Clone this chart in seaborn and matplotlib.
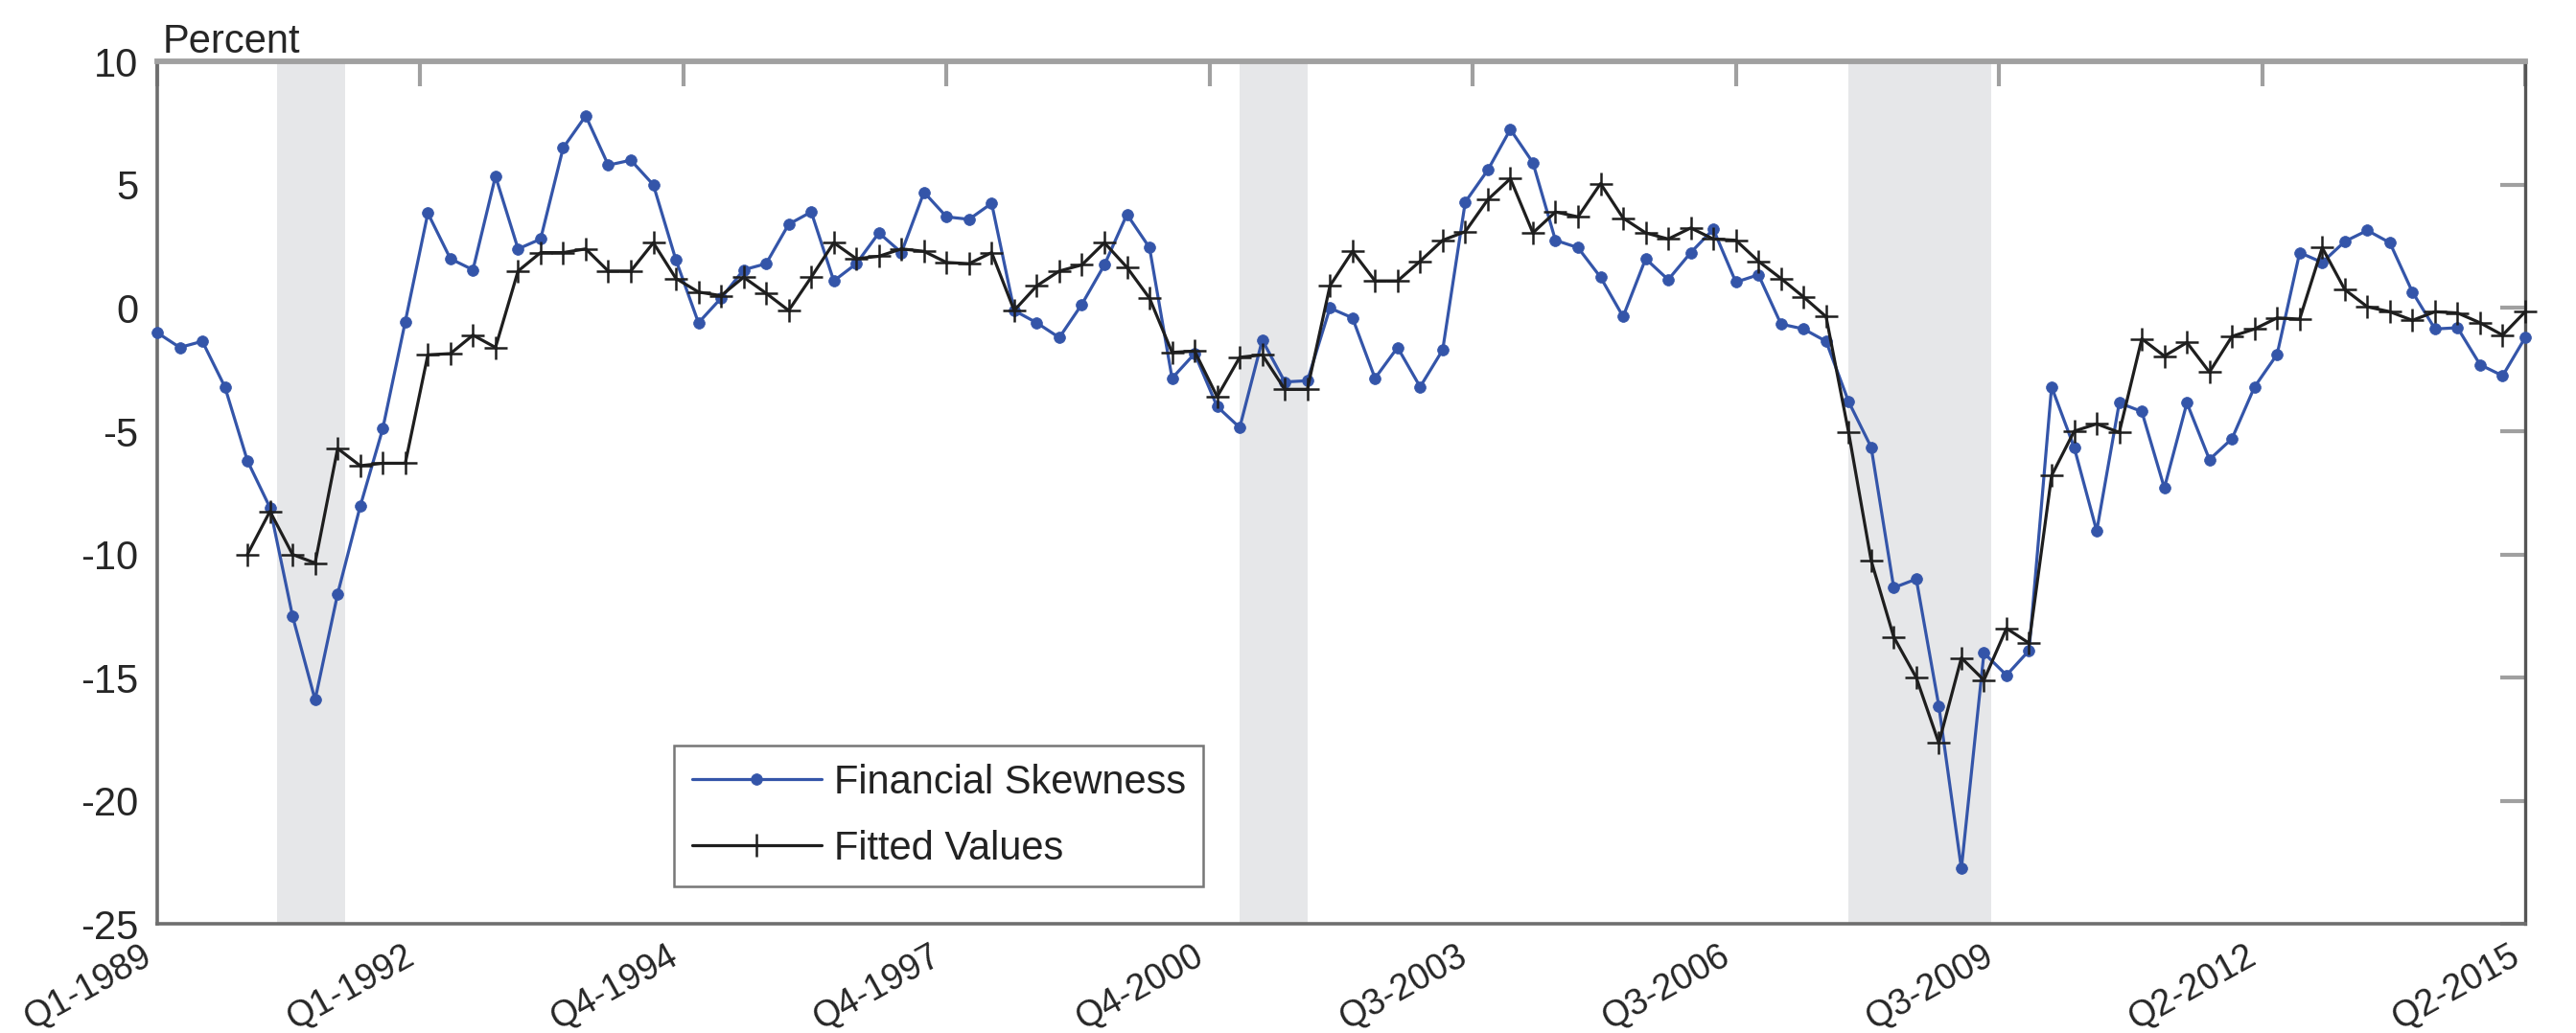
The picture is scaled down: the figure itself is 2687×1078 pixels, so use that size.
import numpy as np
import pandas as pd
import matplotlib
matplotlib.use("Agg")
import matplotlib.pyplot as plt
import seaborn as sns

# Quarterly sample: Q1-1989 through Q2-2015
quarters = [f"Q{p.quarter}-{p.year}" for p in pd.period_range("1989Q1", "2015Q2", freq="Q")]

financial_skewness = [
    -1.0, -1.6, -1.35, -3.2, -6.2, -8.1, -12.5, -15.9, -11.6, -8.05,
    -4.9, -0.55, 3.85, 2.0, 1.55, 5.35, 2.4, 2.8, 6.5, 7.8,
    5.8, 6.0, 5.0, 1.95, -0.6, 0.4, 1.55, 1.8, 3.4, 3.9,
    1.1, 1.8, 3.05, 2.25, 4.7, 3.7, 3.6, 4.25, -0.1, -0.6,
    -1.2, 0.15, 1.75, 3.8, 2.45, -2.85, -1.85, -4.0, -4.85, -1.3,
    -3.0, -2.95, 0.0, -0.4, -2.85, -1.6, -3.2, -1.7, 4.3, 5.6,
    7.25, 5.9, 2.75, 2.45, 1.25, -0.35, 2.0, 1.15, 2.25, 3.2,
    1.05, 1.35, -0.65, -0.85, -1.35, -3.8, -5.65, -11.35, -11.0, -16.15,
    -22.75, -14.0, -14.9, -13.9, -3.2, -5.65, -9.05, -3.85, -4.2, -7.3,
    -3.85, -6.15, -5.3, -3.2, -1.88, 2.25, 1.85, 2.7, 3.15, 2.65,
    0.65, -0.85, -0.8, -2.3, -2.75, -1.2,
]

fitted_values = [
    np.nan, np.nan, np.nan, np.nan, -10.0, -8.25, -10.0, -10.35, -5.7, -6.4,
    -6.3, -6.3, -1.9, -1.85, -1.1, -1.6, 1.5, 2.25, 2.25, 2.4,
    1.5, 1.5, 2.65, 1.2, 0.65, 0.5, 1.25, 0.6, -0.1, 1.25,
    2.65, 2.0, 2.1, 2.4, 2.3, 1.85, 1.8, 2.25, -0.1, 0.9,
    1.5, 1.75, 2.65, 1.65, 0.4, -1.8, -1.75, -3.6, -2.0, -1.9,
    -3.3, -3.3, 0.9, 2.3, 1.1, 1.1, 1.9, 2.75, 3.1, 4.4,
    5.25, 3.05, 3.9, 3.7, 5.05, 3.65, 3.05, 2.8, 3.25, 2.8,
    2.75, 1.9, 1.2, 0.45, -0.35, -5.05, -10.25, -13.35, -15.0, -17.65,
    -14.2, -15.1, -13.0, -13.6, -6.8, -5.0, -4.7, -5.05, -1.25, -1.95,
    -1.4, -2.6, -1.15, -0.85, -0.4, -0.45, 2.45, 0.75, 0.05, -0.15,
    -0.5, -0.15, -0.2, -0.6, -1.1, -0.15,
]

# Recession periods, in quarters since Q1-1989
recessions = [(5.33, 8.33), (48.0, 51.0), (75.0, 81.33)]

x_tick_labels = ["Q1-1989", "Q1-1992", "Q4-1994", "Q4-1997", "Q4-2000",
                 "Q3-2003", "Q3-2006", "Q3-2009", "Q2-2012", "Q2-2015"]
y_ticks = [-25, -20, -15, -10, -5, 0, 5, 10]
y_tick_labels = ["-25", "-20", "-15", "-10", "-5", "0", "5", "10"]

df = pd.DataFrame({
    "quarter": np.arange(len(quarters)),
    "label": quarters,
    "Financial Skewness": financial_skewness,
    "Fitted Values": fitted_values,
})

sns.set_style("white")
plt.rcParams["font.family"] = ["Liberation Sans", "DejaVu Sans"]
plt.rcParams["axes.unicode_minus"] = False

W, H = 2687, 1078
fig = plt.figure(figsize=(W / 100, H / 100), dpi=100)
ax = fig.add_axes([164 / W, 1 - 964.3 / H, 2470 / W, 900 / H])

BLUE = "#3455a9"
BLACK = "#1e1e1e"
FS = 30

for start, end in recessions:
    ax.axvspan(start, end, color="#e6e7e9", lw=0, zorder=0)

sns.lineplot(data=df, x="quarter", y="Financial Skewness", ax=ax,
             color=BLUE, lw=2.3, marker="o", markersize=8.5,
             markeredgecolor=BLUE, markeredgewidth=0.5,
             label="Financial Skewness", clip_on=False, zorder=3)
sns.lineplot(data=df, x="quarter", y="Fitted Values", ax=ax,
             color=BLACK, lw=2.3, marker="+", markersize=17,
             markeredgecolor=BLACK, markeredgewidth=1.8,
             label="Fitted Values", clip_on=False, zorder=4)

ax.set_xlim(0, len(quarters) - 1)
ax.set_ylim(-25, 10)
ax.set_xlabel("")
ax.set_ylabel("")

ax.set_xticks(np.linspace(0, len(quarters) - 1, len(x_tick_labels)))
ax.set_xticklabels(x_tick_labels, rotation=29, ha="right", va="top",
                   fontsize=27)
ax.set_yticks(y_ticks)
ax.set_yticklabels(y_tick_labels)

ax.tick_params(axis="both", direction="in", length=19, width=3,
               color="#a0a0a0", labelcolor="#262626",
               top=True, right=True)
ax.tick_params(axis="y", labelsize=FS, pad=14)
ax.tick_params(axis="x", pad=11)

for side in ["left", "bottom"]:
    ax.spines[side].set_color("#6e6e6e")
    ax.spines[side].set_linewidth(2.6)
ax.spines["right"].set_color("#555555")
ax.spines["right"].set_linewidth(2.4)
ax.spines["top"].set_color("#a0a0a0")
ax.spines["top"].set_linewidth(4.2)

leg = ax.legend(loc="upper left", bbox_to_anchor=(0.2182, 0.207),
                borderaxespad=0, frameon=True, fancybox=False,
                edgecolor="#555555", fontsize=FS, handlelength=3.24,
                handletextpad=0.31, borderpad=0.45, labelspacing=0.7)
leg.get_frame().set_linewidth(1.8)
for t in leg.get_texts():
    t.set_color("#222222")

fig.text(170 / W, 1 - 55 / H, "Percent", fontsize=FS, color="#262626",
         ha="left", va="baseline")

fig.savefig("out.png", dpi=100)
